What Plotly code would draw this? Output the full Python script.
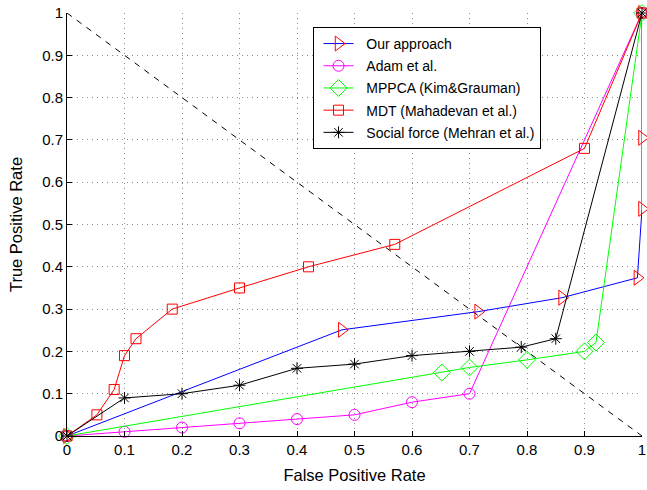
import plotly.graph_objects as go

# ---- data ----
our_x = [0, 0.478, 0.715, 0.861, 0.992, 1.0, 1.0, 1.0]
our_y = [0, 0.251, 0.294, 0.327, 0.374, 0.537, 0.705, 1.0]

adam_x = [0, 0.1, 0.2, 0.3, 0.4, 0.5, 0.6, 0.7, 1.0]
adam_y = [0, 0.01, 0.02, 0.03, 0.04, 0.05, 0.08, 0.10, 1.0]

mppca_x = [0, 0.652, 0.70, 0.80, 0.90, 0.92, 1.0]
mppca_y = [0, 0.15, 0.162, 0.18, 0.20, 0.221, 1.0]

mdt_x = [0, 0.052, 0.082, 0.10, 0.12, 0.183, 0.30, 0.42, 0.57, 0.90, 1.0]
mdt_y = [0, 0.05, 0.11, 0.19, 0.23, 0.30, 0.35, 0.40, 0.453, 0.68, 1.0]

sf_x = [0, 0.10, 0.20, 0.30, 0.40, 0.50, 0.60, 0.70, 0.79, 0.85, 1.0]
sf_y = [0, 0.09, 0.10, 0.12, 0.16, 0.17, 0.19, 0.20, 0.21, 0.23, 1.0]

diag_x = [0, 1]
diag_y = [1, 0]

tick_vals = [0, 0.1, 0.2, 0.3, 0.4, 0.5, 0.6, 0.7, 0.8, 0.9, 1]
tick_text = ["0", "0.1", "0.2", "0.3", "0.4", "0.5", "0.6", "0.7", "0.8", "0.9", "1"]

series_names = ["Our approach", "Adam et al.", "MPPCA (Kim&Grauman)",
                "MDT (Mahadevan et al.)", "Social force (Mehran et al.)"]

series = [
    (series_names[0], our_x, our_y, "blue", "red", "triangle-right-open", 13),
    (series_names[1], adam_x, adam_y, "magenta", "magenta", "circle-open", 11),
    (series_names[2], mppca_x, mppca_y, "#00FF00", "#00FF00", "diamond-open", 13),
    (series_names[3], mdt_x, mdt_y, "red", "red", "square-open", 10),
    (series_names[4], sf_x, sf_y, "black", "black", "asterisk-open", 10),
]

FONT = "Liberation Sans, Arial, sans-serif"
PAD = "\u00a0\u00a0"

fig = go.Figure()

fig.add_trace(go.Scatter(
    x=diag_x, y=diag_y, mode="lines", showlegend=False,
    line=dict(color="black", width=1, dash="6px,6px"), hoverinfo="skip",
))

for i, (name, xs, ys, lc, mc, sym, sz) in enumerate(series):
    fig.add_trace(go.Scatter(
        x=xs, y=ys, mode="lines+markers", name=PAD + name, cliponaxis=False,
        legendgroup=f"g{i}",
        line=dict(color=lc, width=1),
        marker=dict(symbol=sym, size=sz, color=mc, line=dict(color=mc, width=1)),
    ))

axis_common = dict(
    range=[0, 1], tickvals=tick_vals, ticktext=tick_text,
    ticks="inside", ticklen=5, tickcolor="black", tickwidth=1,
    showline=True, linecolor="black", linewidth=1, mirror=False,
    showgrid=True, gridcolor="#8a8a8a", gridwidth=1, griddash="1px,4px",
    zeroline=False, tickfont=dict(family=FONT, size=15, color="black"),
    title_font=dict(family=FONT, size=16.5, color="black"),
    automargin=False,
)

fig.update_xaxes(**axis_common, title_text="False Positive Rate", title_standoff=12)
fig.update_yaxes(**axis_common, title_text="True Positive Rate", title_standoff=15)

fig.update_layout(
    width=647, height=490,
    margin=dict(l=67, r=5, t=13, b=54),
    plot_bgcolor="white", paper_bgcolor="white",
    font=dict(family=FONT, size=14, color="black"),
    legend=dict(
        x=0.427, y=0.967, xanchor="left", yanchor="top",
        bgcolor="white", bordercolor="black", borderwidth=1,
        font=dict(family=FONT, size=14, color="black"),
        tracegroupgap=1, indentation=5,
    ),
)

fig.write_html("out.html")
